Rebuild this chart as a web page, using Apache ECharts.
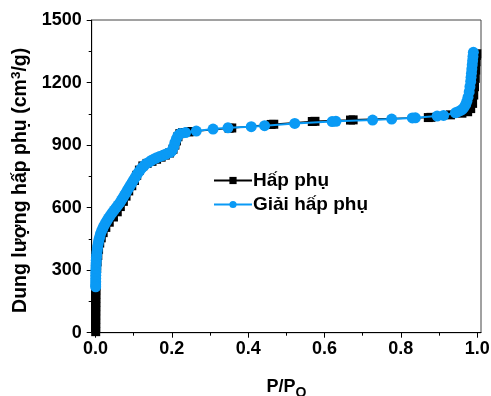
<!DOCTYPE html>
<html>
<head>
<meta charset="utf-8">
<script src="https://cdn.jsdelivr.net/npm/echarts@6/dist/echarts.min.js"></script>
<style>
html,body{margin:0;padding:0;background:#fff;}
#chart{width:491px;height:396px;}
</style>
</head>
<body>
<div id="chart"></div>
<script>
// Adsorption (Hấp phụ) branch: relative pressure and volume
const adsP = [0.0005,0.0005,0.0005,0.0006,0.0006,0.0007,0.0007,0.0008,0.0008,0.0009,0.001,0.0012,
  0.0015,0.002,0.003,0.004,0.006,0.008,0.011,0.015,0.02,0.027,0.036,0.047,0.057,0.065,0.073,0.08,0.087,0.095,
  0.102,0.108,0.115,0.124,0.135,0.148,0.16,0.172,0.183,0.194,0.203,0.208,0.212,0.216,0.221,0.228,
  0.245,0.252,0.350,0.357,0.460,0.467,0.568,0.575,0.668,0.675,0.872,0.879,0.930,0.960,0.975,0.983,
  0.988,0.991,0.993,0.995,0.996,0.997,0.998,0.999];
const adsV = [5,25,45,65,85,105,125,145,165,185,205,225,
  250,280,310,340,370,400,430,455,480,505,530,555,580,605,630,655,680,705,
  730,755,780,800,812,822,832,842,852,862,880,900,920,940,955,960,
  963,965,981,982,999,1000,1013,1014,1020,1021,1032,1033,1045,1053,1060,1075,
  1100,1140,1180,1220,1260,1300,1330,1338];

// Desorption (Giải hấp phụ) branch
const desP = [0.990,0.989,0.988,0.987,0.986,0.985,0.984,0.983,0.981,0.979,0.976,0.973,0.970,0.966,0.962,0.957,0.950,0.943,
  0.912,0.895,0.838,0.830,0.776,0.726,0.630,0.620,0.522,0.443,0.408,0.347,0.308,0.264,0.236,
  0.222,0.216,0.212,0.208,0.205,0.201,0.197,0.190,0.183,0.176,0.168,0.160,0.153,0.146,0.140,0.134,0.128,0.122,0.117,0.112,
  0.108,0.104,0.100,0.096,0.092,0.088,0.084,0.080,0.076,0.072,0.068,0.064,0.059,0.054,0.049,0.044,0.039,0.034,0.030,0.026,
  0.022,0.019,0.016,0.013,0.011,0.009,0.0075,0.006,0.005,0.004,0.0032,0.0025,0.002,0.0016,0.0012,0.001,0.0008];
const desV = [1345,1325,1305,1285,1265,1245,1225,1205,1180,1155,1130,1110,1095,1082,1073,1066,1060,1055,
  1042,1039,1031,1030,1025,1020,1014,1013,1004,993,988,983,977,967,960,
  955,945,930,912,893,875,866,861,856,850,845,839,833,826,818,812,803,792,780,768,
  757,745,733,721,709,697,685,672,660,648,636,624,612,600,588,576,563,550,538,525,
  512,500,488,474,460,446,432,418,404,390,376,362,348,334,320,305,290];
const desVlow = [275,260,245,230,220];
const desPlow = [0.0006,0.0005,0.0005,0.0004,0.0004];

const xTicks = [0, 0.2, 0.4, 0.6, 0.8, 1.0];
const xMinor = [0.1, 0.3, 0.5, 0.7, 0.9];
const yTicks = [0, 300, 600, 900, 1200, 1500];

const ads = adsP.map((p, i) => [p, adsV[i]]);
const des = desP.map((p, i) => [p, desV[i]]).concat(desPlow.map((p, i) => [p, desVlow[i]]));

const FONT = 'Liberation Sans, Arial, sans-serif';
const chart = echarts.init(document.getElementById('chart'), null, {renderer: 'canvas'});
chart.setOption({
  animation: false,
  backgroundColor: '#fff',
  grid: {left: 91.7, right: 10, top: 20, bottom: 63.3, containLabel: false, outerBoundsMode: 'none',
    show: true, borderColor: '#444', borderWidth: 1, backgroundColor: 'transparent'},
  legend: {
    orient: 'vertical', left: 208, top: 166, itemWidth: 38, itemHeight: 9, itemGap: 5,
    textStyle: {fontFamily: FONT, fontWeight: 'bold', fontSize: 19, color: '#000', padding: [0,0,0,-4]},
    data: ['Hấp phụ', 'Giải hấp phụ']
  },
  xAxis: [{
    type: 'value', min: -0.01, max: 1.01, position: 'bottom',
    name: '{a|P/P}{s|O}', nameLocation: 'middle', nameGap: 41,
    nameTextStyle: {rich: {
      a: {fontFamily: FONT, fontWeight: 'bold', fontSize: 18, color: '#000'},
      s: {fontFamily: FONT, fontWeight: 'bold', fontSize: 14, color: '#000', padding: [12,0,0,0]}
    }},
    axisLine: {show: true, onZero: false, lineStyle: {color: '#000', width: 1}},
    axisTick: {show: true, length: 5, inside: false, customValues: xTicks, lineStyle: {color: '#000'}},
    axisLabel: {customValues: xTicks, formatter: v => v.toFixed(1), margin: 7,
      fontFamily: FONT, fontWeight: 'bold', fontSize: 18, color: '#000'},
    splitLine: {show: false}
  }, {
    type: 'value', min: -0.01, max: 1.01, position: 'bottom', gridIndex: 0,
    axisLine: {show: false},
    axisTick: {show: true, length: 3, customValues: xMinor, lineStyle: {color: '#000'}},
    axisLabel: {show: false},
    splitLine: {show: false}
  }],
  yAxis: {
    type: 'value', min: 0, max: 1500, interval: 300,
    name: '{a|Dung lượng hấp phụ (cm}{s|3}{a|/g)}', nameLocation: 'middle', nameGap: 58, nameRotate: 90,
    nameTextStyle: {padding: [0,0,0,-8], rich: {
      a: {fontFamily: FONT, fontWeight: 'bold', fontSize: 19.5, color: '#000'},
      s: {fontFamily: FONT, fontWeight: 'bold', fontSize: 13.5, color: '#000', padding: [0,0,9,0]}
    }},
    axisLine: {show: true, onZero: false, lineStyle: {color: '#000', width: 1}},
    axisTick: {show: true, length: 5, lineStyle: {color: '#000'}},
    minorTick: {show: true, splitNumber: 2, length: 3, lineStyle: {color: '#000'}},
    axisLabel: {margin: 10, formatter: v => String(v), fontFamily: FONT, fontWeight: 'bold', fontSize: 18, color: '#000'},
    splitLine: {show: false}
  },
  series: [{
    name: 'Hấp phụ', type: 'line', data: ads, xAxisIndex: 0,
    symbol: 'rect', symbolSize: 9, showAllSymbol: true,
    lineStyle: {color: '#000', width: 1.5},
    itemStyle: {color: '#000'},
    z: 2
  }, {
    name: 'Giải hấp phụ', type: 'line', data: des, xAxisIndex: 0,
    symbol: 'circle', symbolSize: 11, showAllSymbol: true,
    lineStyle: {color: '#0a9af5', width: 2},
    itemStyle: {color: '#0a9af5'},
    z: 3
  }]
});
</script>
</body>
</html>
